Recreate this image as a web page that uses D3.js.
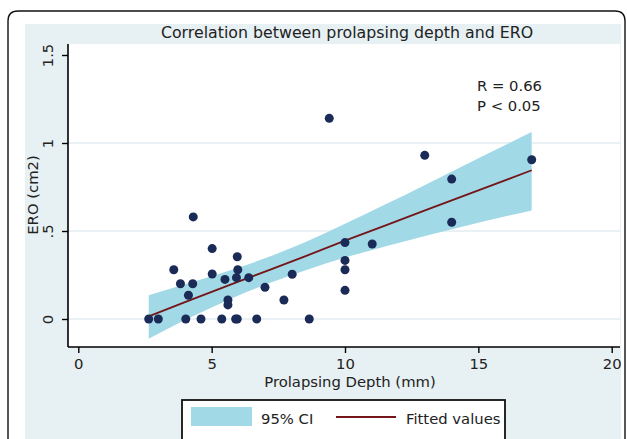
<!DOCTYPE html>
<html>
<head>
<meta charset="utf-8">
<script src="https://cdn.jsdelivr.net/npm/d3@7"></script>
<style>
  body { margin: 0; background: #ffffff; }
  text { font-family: "DejaVu Sans", sans-serif; fill: #222; }
</style>
</head>
<body>
<svg id="chart" width="627" height="439"></svg>
<script>
// donnees
const depth = [2.64, 3.0, 3.58, 3.83, 4.03, 4.13, 4.29, 4.31, 4.6, 5.02, 5.02, 5.38, 5.5, 5.61, 5.61, 5.9,
  5.96, 5.96, 5.98, 5.93, 6.39, 6.69, 7.0, 7.71, 8.02, 8.66, 9.41, 10, 10, 10, 10, 11.02, 12.99, 14, 14, 17];
const ero = [0, 0, 0.28, 0.2, 0, 0.135, 0.2, 0.58, 0, 0.40, 0.256, 0, 0.225, 0.108, 0.08, 0,
  0, 0.354, 0.28, 0.235, 0.235, 0, 0.18, 0.108, 0.254, 0, 1.14, 0.434, 0.333, 0.28, 0.163, 0.426, 0.93, 0.795, 0.55, 0.905];

// droite ajustee et intervalle de confiance
const fitX = [2.64, 4, 5, 6, 7.2, 8.5, 10, 11.5, 13, 14.5, 17];
const fitY = [0.015, 0.096, 0.154, 0.212, 0.281, 0.356, 0.445, 0.531, 0.617, 0.702, 0.845];
const ciLow = [-0.112, -0.006, 0.065, 0.133, 0.206, 0.276, 0.349, 0.412, 0.472, 0.529, 0.617];
const ciHigh = [0.135, 0.198, 0.243, 0.291, 0.356, 0.436, 0.541, 0.650, 0.762, 0.875, 1.062];

const xTicks = [0, 5, 10, 15, 20];
const yTicks = [0, 0.5, 1, 1.5];
const yGrid = [0, 0.5, 1];
const yTickLabels = ["0", ".5", "1", "1.5"];

const title = "Correlation between prolapsing depth and ERO";
const xTitle = "Prolapsing Depth (mm)";
const yTitle = "ERO (cm2)";
const stats = ["R = 0.66", "P < 0.05"];
const legendLabels = ["95% CI", "Fitted values"];

// couleurs
const bgColor = "#e7f0f2";
const ciColor = "#a2d9e6";
const fitColor = "#741519";
const dotColor = "#1b2b57";
const gridColor = "#e2edf0";

const fs = 14.8;   // taille du texte

const svg = d3.select("svg");

// zone du graphe
const plot = { left: 68, right: 620, top: 44, bottom: 347 };

const x = d3.scaleLinear().domain([0, 20]).range([78.3, 611.7]);
const y = d3.scaleLinear().domain([0, 1.5]).range([319, 55]);

// cadre arrondi + fond
svg.append("path")
  .attr("d", "M8,450 L8,21 Q8,11 18,11 L615,11 Q625,11 625,21 L625,450")
  .attr("fill", "#ffffff").attr("stroke", "#111").attr("stroke-width", 1.4);
svg.append("rect").attr("x", 25).attr("y", 24).attr("width", 596).attr("height", 420).attr("fill", bgColor);

// fond blanc de la zone de trace
svg.append("rect").attr("x", plot.left).attr("y", plot.top)
  .attr("width", plot.right - plot.left).attr("height", plot.bottom - plot.top).attr("fill", "#ffffff");

// titre
svg.append("text").attr("x", 347).attr("y", 38).attr("text-anchor", "middle")
  .attr("font-size", 15.8).text(title);

// grille
svg.selectAll(".grid").data(yGrid).enter().append("line")
  .attr("x1", plot.left).attr("x2", plot.right)
  .attr("y1", d => y(d)).attr("y2", d => y(d))
  .attr("stroke", gridColor).attr("stroke-width", 1.5);

// intervalle de confiance
const ciData = fitX.map((v, i) => ({ x: v, lo: ciLow[i], hi: ciHigh[i] }));
svg.append("path").datum(ciData)
  .attr("d", d3.area().x(d => x(d.x)).y0(d => y(d.lo)).y1(d => y(d.hi)).curve(d3.curveMonotoneX))
  .attr("fill", ciColor);

// droite ajustee
const fitData = fitX.map((v, i) => ({ x: v, y: fitY[i] }));
svg.append("path").datum(fitData)
  .attr("d", d3.line().x(d => x(d.x)).y(d => y(d.y)))
  .attr("fill", "none").attr("stroke", fitColor).attr("stroke-width", 1.8);

// points
svg.selectAll(".dot").data(depth).enter().append("circle")
  .attr("cx", d => x(d)).attr("cy", (d, i) => y(ero[i]))
  .attr("r", 4.5).attr("fill", dotColor);

// axe des x
const xAxis = svg.append("g").attr("transform", "translate(0," + plot.bottom + ")")
  .call(d3.axisBottom(x).tickValues(xTicks).tickSize(6).tickPadding(5).tickSizeOuter(0));
xAxis.select(".domain").attr("d", "M" + plot.left + ",0H" + plot.right).attr("stroke-width", 1.6);
xAxis.selectAll(".tick line").attr("stroke-width", 1.4);
xAxis.selectAll("text").attr("font-size", fs).attr("font-family", "DejaVu Sans").attr("fill", "#222");

// axe des y
const yAxis = svg.append("g").attr("transform", "translate(" + plot.left + ",0)")
  .call(d3.axisLeft(y).tickValues(yTicks).tickFormat((d, i) => yTickLabels[i]).tickSize(6).tickSizeOuter(0));
yAxis.select(".domain").attr("d", "M0," + plot.top + "V" + plot.bottom).attr("stroke-width", 1.6);
yAxis.selectAll(".tick line").attr("stroke-width", 1.4);
yAxis.selectAll("text")
  .attr("font-size", fs).attr("font-family", "DejaVu Sans").attr("fill", "#222")
  .attr("x", 0).attr("dy", 0)
  .attr("text-anchor", "middle")
  .attr("transform", "translate(-15,0) rotate(-90)");

// titres des axes
svg.append("text").attr("x", 350).attr("y", 387).attr("text-anchor", "middle")
  .attr("font-size", fs).text(xTitle);
svg.append("text").attr("transform", "translate(38,195) rotate(-90)").attr("text-anchor", "middle")
  .attr("font-size", fs).text(yTitle);

// R et P
svg.selectAll(".stat").data(stats).enter().append("text")
  .attr("x", 477).attr("y", (d, i) => 91 + i * 20)
  .attr("font-size", fs).text(d => d);

// legende
svg.append("rect").attr("x", 182).attr("y", 400).attr("width", 323).attr("height", 60)
  .attr("fill", "#ffffff").attr("stroke", "#111").attr("stroke-width", 1.8);
svg.append("rect").attr("x", 191).attr("y", 407).attr("width", 61).attr("height", 19).attr("fill", ciColor);
svg.append("text").attr("x", 261).attr("y", 424).attr("font-size", fs).text(legendLabels[0]);
svg.append("line").attr("x1", 336).attr("x2", 396).attr("y1", 417).attr("y2", 417)
  .attr("stroke", fitColor).attr("stroke-width", 2);
svg.append("text").attr("x", 406).attr("y", 424).attr("font-size", fs).text(legendLabels[1]);
</script>
</body>
</html>
